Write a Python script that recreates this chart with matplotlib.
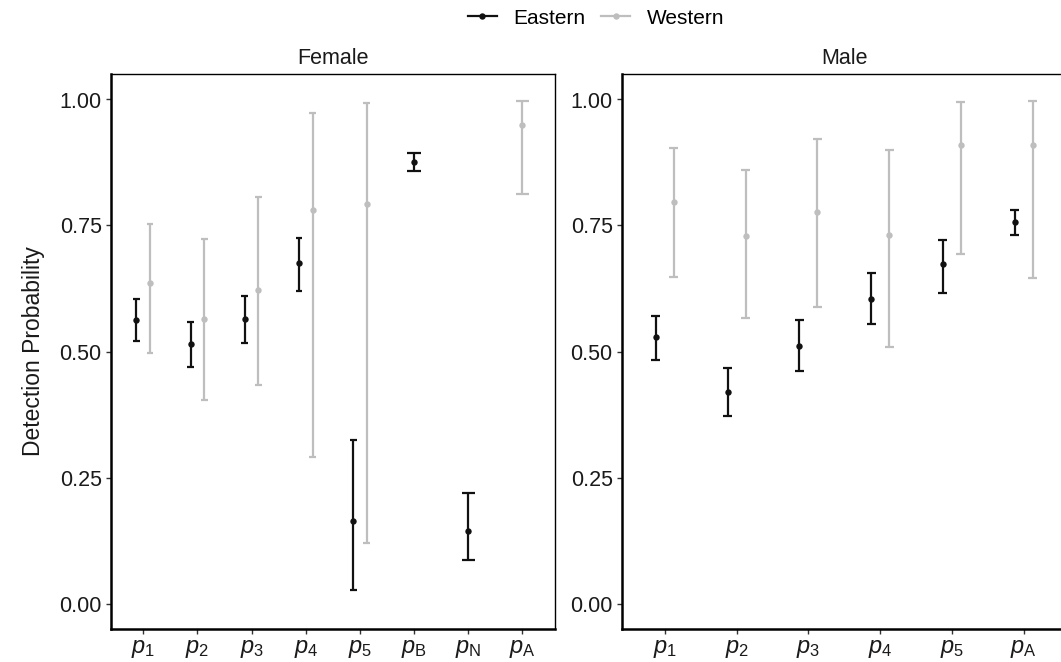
import numpy as np
import matplotlib
matplotlib.use("Agg")
import matplotlib.pyplot as plt
from matplotlib.lines import Line2D

plt.rcParams['font.family'] = ['Liberation Sans', 'DejaVu Sans']
plt.rcParams['mathtext.fontset'] = 'custom'
plt.rcParams['mathtext.rm'] = 'Liberation Sans'
plt.rcParams['mathtext.it'] = 'Liberation Sans:italic'

# ---- data ----
female_labels = [r'$p_1$', r'$p_2$', r'$p_3$', r'$p_4$', r'$p_5$',
                 r'$p_\mathrm{B}$', r'$p_\mathrm{N}$', r'$p_\mathrm{A}$']
male_labels = [r'$p_1$', r'$p_2$', r'$p_3$', r'$p_4$', r'$p_5$', r'$p_\mathrm{A}$']

nan = np.nan
# Female
f_east_est = [0.563, 0.514, 0.565, 0.675, 0.163, 0.876, 0.144, nan]
f_east_lo = [0.521, 0.469, 0.517, 0.620, 0.026, 0.858, 0.087, nan]
f_east_hi = [0.604, 0.559, 0.611, 0.725, 0.325, 0.893, 0.220, nan]
f_west_est = [0.635, 0.564, 0.623, 0.780, 0.792, nan, nan, 0.950]
f_west_lo = [0.498, 0.403, 0.433, 0.290, 0.120, nan, nan, 0.812]
f_west_hi = [0.753, 0.723, 0.806, 0.973, 0.993, nan, nan, 0.998]
# Male
m_east_est = [0.528, 0.420, 0.511, 0.605, 0.673, 0.756]
m_east_lo = [0.483, 0.373, 0.461, 0.554, 0.617, 0.731]
m_east_hi = [0.570, 0.467, 0.562, 0.656, 0.722, 0.780]
m_west_est = [0.797, 0.730, 0.776, 0.732, 0.909, 0.910]
m_west_lo = [0.648, 0.567, 0.588, 0.508, 0.694, 0.646]
m_west_hi = [0.903, 0.861, 0.922, 0.899, 0.995, 0.997]

series_names = ['Eastern', 'Western']
colors = ['#111111', '#BEBEBE']

W, H = 1061, 662
fig = plt.figure(figsize=(W / 100, H / 100), dpi=100)

def fx(px):
    return px / W

def fy(py):
    return 1 - py / H

top_px, bot_px = 74.3, 628.7
ax1 = fig.add_axes([fx(110.7), fy(bot_px), fx(555 - 110.7), (bot_px - top_px) / H])
ax2 = fig.add_axes([fx(621.7), fy(bot_px), fx(1066.8 - 621.7), (bot_px - top_px) / H])

def draw_panel(ax, labels, east, west, title):
    n = len(labels)
    x = np.arange(1, n + 1)
    groups = [east, west]
    for gi, (est, lo, hi) in enumerate(groups):
        est = np.asarray(est, float)
        lo = np.asarray(lo, float)
        hi = np.asarray(hi, float)
        other = groups[1 - gi]
        other_est = np.asarray(other[0], float)
        for i in range(n):
            if np.isnan(est[i]):
                continue
            both = not np.isnan(other_est[i])
            if both:
                off = -0.125 if gi == 0 else 0.125
                cw = 0.125
            else:
                off = 0.0
                cw = 0.25
            xi = x[i] + off
            c = colors[gi]
            ax.vlines(xi, lo[i], hi[i], color=c, lw=1.6, zorder=2)
            ax.hlines([lo[i], hi[i]], xi - cw / 2, xi + cw / 2, color=c, lw=1.6, zorder=2)
            ax.plot([xi], [est[i]], 'o', color=c, ms=4.6, zorder=3, mec='none')
    ax.set_xlim(0.4, n + 0.6)
    ax.set_ylim(-0.05, 1.05)
    ax.set_xticks(x)
    ax.set_xticklabels(labels)
    ax.set_yticks([0, 0.25, 0.5, 0.75, 1.0])
    ax.set_yticklabels(['0.00', '0.25', '0.50', '0.75', '1.00'])
    ax.tick_params(axis='both', length=3.5, width=1.0, color='#333333',
                   labelsize=15.5, labelcolor='#1a1a1a', pad=3)
    ax.tick_params(axis='x', labelsize=17, pad=3.5)
    for s in ['left', 'bottom']:
        ax.spines[s].set_linewidth(1.8)
        ax.spines[s].set_color('black')
    for s in ['top', 'right']:
        ax.spines[s].set_linewidth(1.0)
        ax.spines[s].set_color('black')
    ax.set_title(title, fontsize=15.5, color='#1a1a1a', pad=7.5)

draw_panel(ax1, female_labels,
           (f_east_est, f_east_lo, f_east_hi),
           (f_west_est, f_west_lo, f_west_hi), 'Female')
draw_panel(ax2, male_labels,
           (m_east_est, m_east_lo, m_east_hi),
           (m_west_est, m_west_lo, m_west_hi), 'Male')

ax1.set_ylabel('Detection Probability', fontsize=16.5, color='#1a1a1a', labelpad=10)

handles = [Line2D([0], [0], color=colors[i], lw=1.6, marker='o', ms=4.6, mec='none')
           for i in range(2)]
fig.legend(handles, series_names, loc='center', bbox_to_anchor=(fx(596), fy(18)),
           ncol=2, frameon=False, fontsize=15, handlelength=1.4,
           handletextpad=0.8, columnspacing=0.75, borderaxespad=0)

fig.savefig('out.png', dpi=100)
